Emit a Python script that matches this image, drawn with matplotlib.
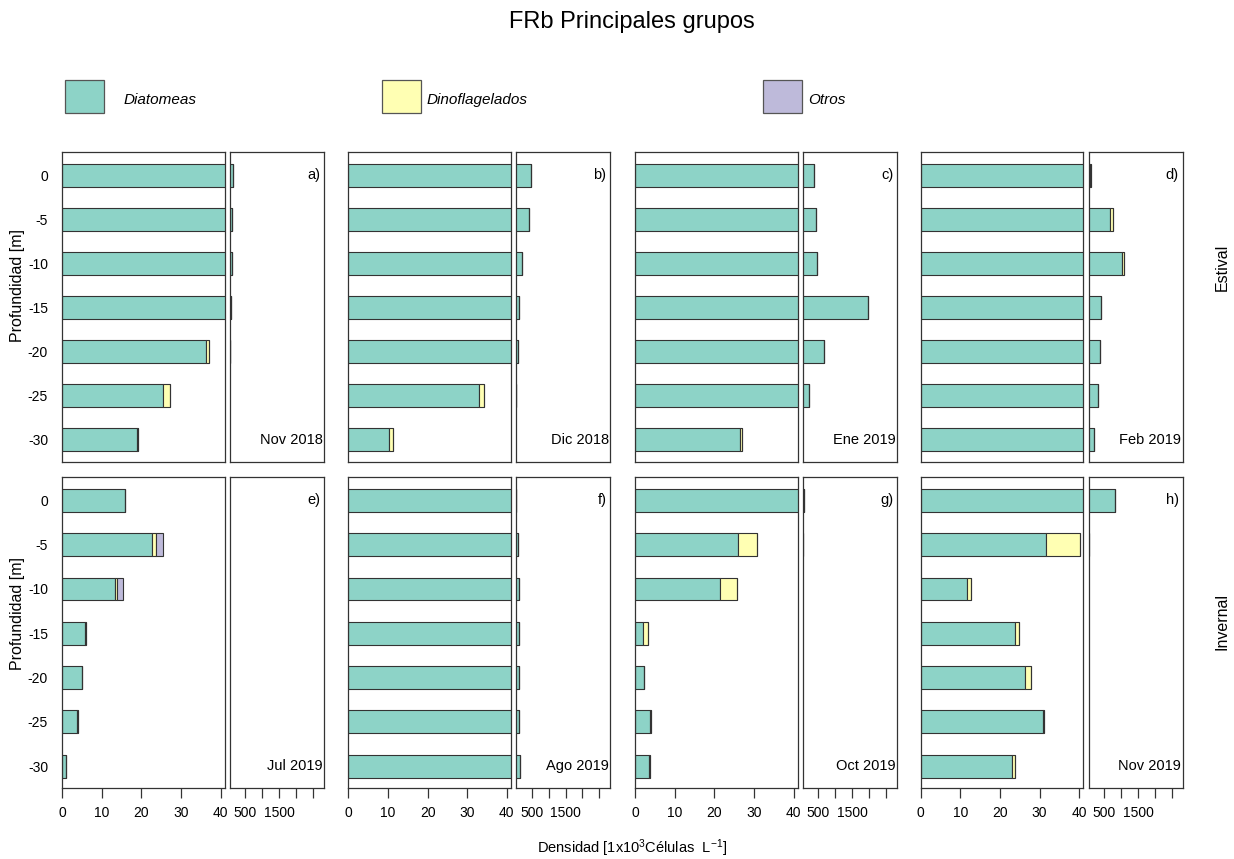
import matplotlib
matplotlib.use("Agg")
import matplotlib.pyplot as plt
from matplotlib.patches import Rectangle
from matplotlib.transforms import blended_transform_factory

plt.rcParams['font.family'] = ['Liberation Sans', 'DejaVu Sans']
plt.rcParams['mathtext.fontset'] = 'custom'
plt.rcParams['mathtext.rm'] = 'Liberation Sans'
plt.rcParams['mathtext.it'] = 'Liberation Sans:italic'

# data: densidad (1x10^3 celulas/L) per panel, depth 0 .. -30 m
depths = ["0", "-5", "-10", "-15", "-20", "-25", "-30"]
letters = ["a)", "b)", "c)", "d)", "e)", "f)", "g)", "h)"]
months = ["Nov 2018", "Dic 2018", "Ene 2019", "Feb 2019",
          "Jul 2019", "Ago 2019", "Oct 2019", "Nov 2019"]
groups = ["Diatomeas", "Dinoflagelados", "Otros"]
colors = ["#8DD3C7", "#FFFFB3", "#BEBADA"]

diatomeas = [
    [135, 100, 100, 60, 36.3, 25.5, 18.8],
    [490, 430, 210, 130, 90, 33.1, 10.3],
    [365, 415, 445, 1955, 650, 230, 26.4],
    [80, 660, 1020, 407, 377, 318, 188],
    [15.9, 22.6, 13.4, 5.8, 5.1, 3.8, 1.1],
    [41.8, 90, 130, 120, 130, 130, 160],
    [60, 26.1, 21.4, 2.0, 2.2, 3.7, 3.5],
    [832, 31.7, 11.8, 23.8, 26.4, 30.8, 23.0],
]
dinoflagelados = [
    [0, 0, 0, 0, 0.9, 1.7, 0.5],
    [0, 0, 0, 0, 0, 1.2, 0.9],
    [0, 0, 0, 0, 0, 0, 0.6],
    [20, 90, 60, 0, 0, 0, 0],
    [0, 1.2, 0.5, 0.2, 0, 0.2, 0],
    [0, 0, 0, 0, 0, 0, 0],
    [0, 4.6, 4.3, 1.2, 0, 0.25, 0.2],
    [0, 8.4, 0.9, 1.0, 1.5, 0.4, 0.8],
]
otros = [
    [0, 0, 0, 0, 0, 0, 0],
    [0, 0, 0, 0, 0, 0, 0],
    [0, 0, 0, 0, 0, 0, 0],
    [0, 0, 0, 0, 0, 0, 0],
    [0, 1.7, 1.4, 0, 0, 0, 0],
    [0, 0, 0, 0, 0, 0, 0],
    [0, 0, 0, 0, 0, 0, 0],
    [0, 0, 0, 0, 0, 0, 0],
]

W, H = 1234, 859
fig = plt.figure(figsize=(W / 100, H / 100), dpi=100)

def box(x0, y0, x1, y1):
    return [x0 / W, 1 - y1 / H, (x1 - x0) / W, (y1 - y0) / H]

col_x = [62, 348.3, 635, 920.7]
rows_y = [(152.3, 461.7), (477.3, 788.3)]
edge = "#333333"

for p in range(8):
    r, c = divmod(p, 4)
    x0 = col_x[c]
    y0, y1 = rows_y[r]
    axl = fig.add_axes(box(x0, y0, x0 + 162.5, y1))
    axr = fig.add_axes(box(x0 + 168, y0, x0 + 262, y1))
    series = [diatomeas[p], dinoflagelados[p], otros[p]]
    for ax in (axl, axr):
        left = [0] * len(depths)
        for vals, col in zip(series, colors):
            ax.barh(range(len(depths)), vals, left=left, height=0.515,
                    color=col, edgecolor=edge, linewidth=0.8)
            left = [a + b for a, b in zip(left, vals)]
        ax.set_ylim(6.5, -0.52)
        for s in ax.spines.values():
            s.set_color(edge)
            s.set_linewidth(0.9)
    axl.set_xlim(0, 41)
    axr.set_xlim(42, 2823)
    axr.set_yticks([])
    axl.set_yticks(range(len(depths)))
    if c == 0:
        axl.set_yticklabels(depths, fontsize=10)
        axl.tick_params(axis='y', length=0, pad=10)
    else:
        axl.set_yticklabels([])
        axl.tick_params(axis='y', length=0)
    axl.set_xticks([0, 10, 20, 30, 40])
    axr.set_xticks([500, 1000, 1500, 2000, 2500])
    if r == 1:
        axl.set_xticklabels(["0", "10", "20", "30", "40"], fontsize=10)
        axr.set_xticklabels(["500", "", "1500", "", ""], fontsize=10)
        for ax in (axl, axr):
            ax.tick_params(axis='x', length=7, width=0.9, color=edge, pad=6)
    else:
        for ax in (axl, axr):
            ax.set_xticks([])
    tr = blended_transform_factory(axr.transAxes, axr.transData)
    axr.text(0.96, 0, letters[p], transform=tr, ha='right', va='center', fontsize=10.5)
    axr.text(0.985, 6, months[p], transform=tr, ha='right', va='center', fontsize=10.5)

# legend
leg_x = [65, 382, 763]
for g, col, lx in zip(groups, colors, leg_x):
    fig.patches.append(Rectangle((lx / W, 1 - 113 / H), 39 / W, 33 / H,
                                 facecolor=col, edgecolor="#555555", lw=0.9,
                                 transform=fig.transFigure, figure=fig))
    fig.text((lx + (59 if g == "Diatomeas" else 45)) / W, 1 - 100 / H, g,
             fontsize=11, style='italic', va='center', ha='left')

fig.text(632 / W, 1 - 22 / H, "FRb Principales grupos", fontsize=17,
         ha='center', va='center')
for yc in (286, 613):
    fig.text(18 / W, 1 - yc / H, "Profundidad [m]", rotation=90, fontsize=11.5,
             ha='center', va='center')
fig.text(1222 / W, 1 - 267 / H, "Estival", rotation=90, fontsize=11.5,
         ha='center', va='center')
fig.text(1222 / W, 1 - 622 / H, "Invernal", rotation=90, fontsize=11.5,
         ha='center', va='center')
fig.text(632 / W, 1 - 848 / H, r"Densidad [1x10$^{3}$Células  L$^{-1}$]",
         fontsize=10.5, ha='center', va='center')

fig.savefig("out.png", dpi=100)
